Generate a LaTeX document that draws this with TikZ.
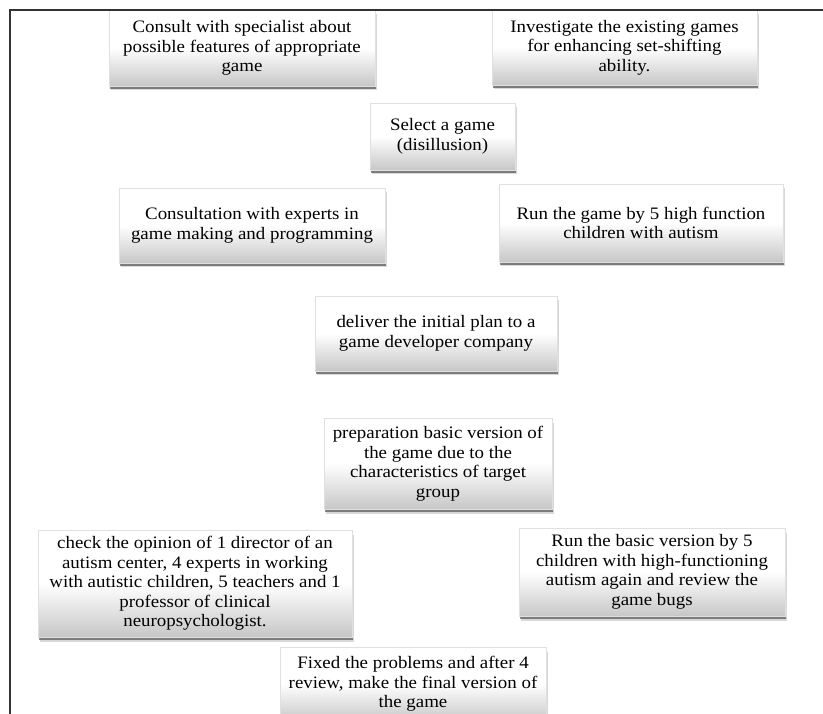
\documentclass[tikz,border=0pt]{standalone}
\usepackage{fontspec}
\setmainfont[FakeStretch=1.08]{Liberation Serif}
\usetikzlibrary{shadows}
\tikzset{
  box/.style={draw=black!12, line width=0.4pt,
    top color=white, bottom color=black!22, middle color=white,
    drop shadow={shadow xshift=2pt, shadow yshift=-4.5pt, fill=black!60, opacity=0.25},
    drop shadow={shadow xshift=1pt, shadow yshift=-3pt, fill=black!75, opacity=0.6},
    align=center, inner sep=0pt,
    font=\fontsize{17.5}{19.5}\selectfont},
  frameline/.style={draw=black!80, line width=1.8pt}
}
\begin{document}
\begin{tikzpicture}[x=1pt,y=-1pt]
\useasboundingbox[fill=white] (0,0) rectangle (823,714);
\node[box, minimum width=266pt, minimum height=76pt] (n1) at (242,48)
  {Consult with specialist about\\possible features of appropriate\\game};
\node[box, minimum width=265pt, minimum height=75pt] (n2) at (624.5,47.5)
  {Investigate the existing games\\for enhancing set-shifting\\ability.};
\node[box, minimum width=145pt, minimum height=67pt] (n3) at (442.5,136.5)
  {Select a game\\(disillusion)};
\node[box, minimum width=266pt, minimum height=75pt] (n4) at (252,225.5)
  {Consultation with experts in\\game making and programming};
\node[box, minimum width=284pt, minimum height=78pt] (n5) at (641,223)
  {Run the game by 5 high function\\children with autism};
\node[box, minimum width=242pt, minimum height=75pt] (n6) at (436,333.5)
  {deliver the initial plan to a\\game developer company};
\node[box, minimum width=228pt, minimum height=91pt] (n7) at (438,463.5)
  {preparation basic version of\\the game due to the\\characteristics of target\\group};
\node[box, minimum width=314pt, minimum height=107pt] (n8) at (195,583.5)
  {check the opinion of 1 director of an\\autism center, 4 experts in working\\with autistic children, 5 teachers and 1\\professor of clinical\\neuropsychologist.};
\node[box, minimum width=266pt, minimum height=88pt] (n9) at (652,572)
  {Run the basic version by 5\\children with high-functioning\\autism again and review the\\game bugs};
\node[box, minimum width=266pt, minimum height=74pt] (n10) at (413,684)
  {Fixed the problems and after 4\\review, make the final version of\\the game};
\coordinate (fr) at (823,10);
\coordinate (fc) at (10,10);
\coordinate (fb) at (10,714);
\draw[frameline] (fr) -- (fc) -- (fb);
\end{tikzpicture}
\end{document}
